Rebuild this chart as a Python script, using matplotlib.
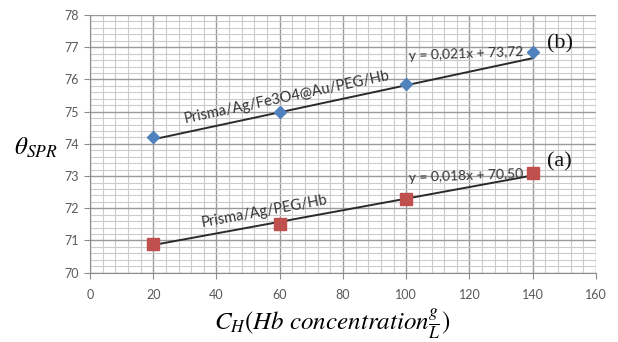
import matplotlib
matplotlib.use("Agg")
import matplotlib.pyplot as plt
import numpy as np
from matplotlib.ticker import MultipleLocator

plt.rcParams['mathtext.fontset'] = 'stix'

conc = [20, 60, 100, 140]
theta_b = [74.2, 75.0, 75.85, 76.85]
theta_a = [70.9, 71.5, 72.3, 73.1]
fit_b = (0.021, 73.72)
fit_a = (0.018, 70.50)
label_b = "Prisma/Ag/Fe3O4@Au/PEG/Hb"
label_a = "Prisma/Ag/PEG/Hb"
eq_b = "y = 0,021x + 73,72"
eq_a = "y = 0,018x + 70,50"
xticks = [0, 20, 40, 60, 80, 100, 120, 140, 160]
yticks = [70, 71, 72, 73, 74, 75, 76, 77, 78]

fig = plt.figure(figsize=(6.18, 3.42), dpi=100)
ax = fig.add_axes([0.1456, 0.2026, 0.8188, 0.7535])

ax.set_xlim(0, 160)
ax.set_ylim(70, 78)
ax.set_xticks(xticks)
ax.set_yticks(yticks)
ax.xaxis.set_minor_locator(MultipleLocator(4))
ax.yaxis.set_minor_locator(MultipleLocator(0.2))
ax.grid(which='minor', color='#cbcbcb', lw=0.8)
ax.grid(which='major', color='#9a9a9a', lw=1.0)
ax.set_axisbelow(True)
for s in ['top', 'right']:
    ax.spines[s].set_visible(False)
for s in ['left', 'bottom']:
    ax.spines[s].set_color('#8c8c8c')
ax.tick_params(which='minor', length=0)
ax.tick_params(which='major', length=4, color='#8c8c8c', labelsize=9,
               labelcolor='#595959', pad=8)
ax.tick_params(axis='y', pad=4)
for lab in ax.get_xticklabels() + ax.get_yticklabels():
    lab.set_family('Lato')

xs = np.array([conc[0], conc[-1]])
ax.plot(xs, fit_b[0] * xs + fit_b[1], color='#2b2b2b', lw=1.4, zorder=3)
ax.plot(xs, fit_a[0] * xs + fit_a[1], color='#2b2b2b', lw=1.4, zorder=3)
ax.plot(conc, theta_b, ls='none', marker='D', ms=6, color='#4F81BD', zorder=4)
ax.plot(conc, theta_a, ls='none', marker='s', ms=8, color='#C0504D', zorder=4)

ax.text(62.3, 75.45, label_b, rotation=12, ha='center', va='center',
        fontsize=10.5, color='#333333', family='Lato', rotation_mode='anchor')
ax.text(55.3, 71.9, label_a, rotation=10.5, ha='center', va='center',
        fontsize=10.5, color='#333333', family='Lato', rotation_mode='anchor')
ax.text(118.9, 76.78, eq_b, ha='center', va='center', fontsize=10,
        color='#333333', family='Lato', rotation=2)
ax.text(118.9, 72.99, eq_a, ha='center', va='center', fontsize=10,
        color='#333333', family='Lato', rotation=2)

ax.text(144.5, 77.1, "(b)", ha='left', va='center', fontsize=16,
        family='Liberation Serif', color='#111111', clip_on=False)
ax.text(144.5, 73.45, "(a)", ha='left', va='center', fontsize=16,
        family='Liberation Serif', color='#111111', clip_on=False)

fig.text(0.058, 0.567, r'$\theta_{SPR}$', ha='center', va='center', fontsize=18)
fig.text(0.537, 0.004, r'$C_H(Hb\ concentration\frac{g}{L})$', ha='center',
         va='bottom', fontsize=18)

fig.savefig('out.png', dpi=100)
